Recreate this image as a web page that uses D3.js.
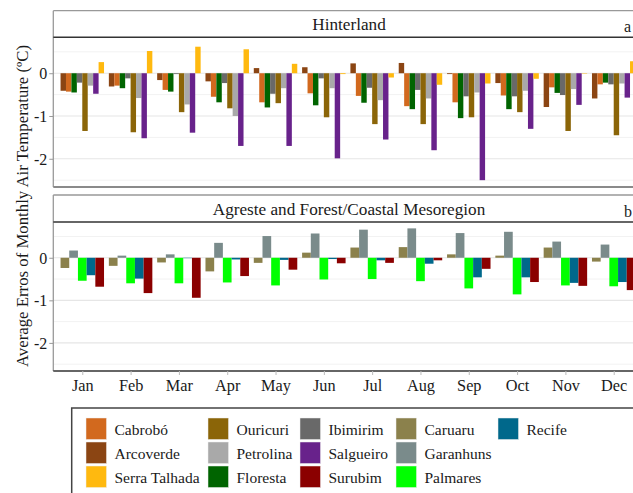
<!DOCTYPE html>
<html>
<head>
<meta charset="utf-8">
<script src="https://cdn.jsdelivr.net/npm/d3@7"></script>
<style>
  html, body { margin: 0; padding: 0; background: #fff; }
  svg { display: block; font-family: "Liberation Serif", "Times New Roman", serif; }
</style>
</head>
<body>
<svg id="chart" width="633" height="493"></svg>
<script>
// Months on the shared x axis
const months = ["Jan","Feb","Mar","Apr","May","Jun","Jul","Aug","Sep","Oct","Nov","Dec"];
const yTicks = [0, -1, -2];

// Hinterland stations (mean monthly error, °C)
const hinterlandStations = ["Arcoverde","Cabrobó","Floresta","Ibimirim","Ouricuri","Petrolina","Salgueiro","Serra Talhada"];
const arcoverde    = [-0.41,-0.31,-0.16,-0.19, 0.12, 0.14, 0.23, 0.24,-0.02,-0.23,-0.79,-0.59];
const cabrobo      = [-0.43,-0.29,-0.39,-0.55,-0.68,-0.47,-0.53,-0.77,-0.68,-0.52,-0.33,-0.26];
const floresta     = [-0.45,-0.35,-0.43,-0.68,-0.80,-0.75,-0.69,-0.84,-1.05,-0.84,-0.46,-0.22];
const ibimirim     = [-0.22,-0.12,-0.02,-0.23,-0.48,-0.12,-0.34,-0.39,-0.54,-0.54,-0.51,-0.26];
const ouricuri     = [-1.35,-1.38,-0.91,-0.82,-0.70,-1.03,-1.19,-1.19,-1.03,-0.91,-1.35,-1.45];
const petrolina    = [-0.29,-0.58,-0.73,-1.00,-0.35,-0.35,-0.63,-0.59,-0.45,-0.41,-0.37,-0.24];
const salgueiro    = [-0.48,-1.52,-1.39,-1.70,-1.70,-1.99,-1.55,-1.80,-2.50,-1.30,-0.74,-0.57];
const serraTalhada = [ 0.26, 0.52, 0.62, 0.56, 0.22,-0.02,-0.10,-0.27,-0.24,-0.13,-0.01, 0.28];

// Agreste and Forest/Coastal stations (mean monthly error, °C)
const agresteStations = ["Caruaru","Garanhuns","Palmares","Recife","Surubim"];
const caruaru   = [-0.24,-0.19,-0.11,-0.32,-0.12, 0.12, 0.24, 0.25, 0.08, 0.05, 0.24,-0.09];
const garanhuns = [ 0.17, 0.05, 0.08, 0.35, 0.51, 0.57, 0.66, 0.69, 0.58, 0.61, 0.38, 0.31];
const palmares  = [-0.54,-0.60,-0.60,-0.58,-0.65,-0.51,-0.50,-0.55,-0.72,-0.86,-0.65,-0.67];
const recife    = [-0.41,-0.49,-0.01,-0.04,-0.05,-0.03,-0.06,-0.14,-0.46,-0.46,-0.59,-0.57];
const surubim   = [-0.68,-0.83,-0.94,-0.43,-0.28,-0.13,-0.12,-0.06,-0.26,-0.57,-0.66,-0.76];

// Legend order (filled column by column, three rows)
const legendOrder = ["Cabrobó","Arcoverde","Serra Talhada","Ouricuri","Petrolina","Floresta",
                     "Ibimirim","Salgueiro","Surubim","Caruaru","Garanhuns","Palmares","Recife"];

const stationColor = d3.scaleOrdinal()
  .domain(["Cabrobó","Arcoverde","Serra Talhada","Ouricuri","Petrolina","Floresta",
           "Ibimirim","Salgueiro","Surubim","Caruaru","Garanhuns","Palmares","Recife"])
  .range(["#D2691E","#8B4513","#FFB90F","#8B6508","#A9A9A9","#006400",
          "#696969","#68228B","#8B0000","#8B814C","#7A8B8B","#00FF00","#00688B"]);

const hinterlandValues = [arcoverde, cabrobo, floresta, ibimirim, ouricuri, petrolina, salgueiro, serraTalhada];
const agresteValues = [caruaru, garanhuns, palmares, recife, surubim];

function toRows(stations, values) {
  const rows = [];
  stations.forEach((s, i) => months.forEach((m, j) => rows.push({station: s, month: m, value: values[i][j]})));
  return rows;
}

const svg = d3.select("#chart");
const left = 53.3, right = 642.7;

const x = d3.scalePoint().domain(months).range([left, right]).padding(0.6);
const step = x.step();

const panels = [
  {title: "Hinterland", tag: "a", tagX: 624, top: 10.7, stripBottom: 37.3, bottom: 187,
   stations: hinterlandStations, rows: toRows(hinterlandStations, hinterlandValues), last: false},
  {title: "Agreste and Forest/Coastal Mesoregion", tag: "b", tagX: 624, top: 195, stripBottom: 222, bottom: 371,
   stations: agresteStations, rows: toRows(agresteStations, agresteValues), last: true}
];

panels.forEach(p => {
  const g = svg.append("g");
  const y = d3.scaleLinear().domain([-2.66, 0.84]).range([p.bottom, p.stripBottom]);
  const inner = d3.scaleBand().domain(p.stations).range([-0.45 * step, 0.45 * step]);

  // gridlines (minor then major)
  const minor = [0.5, -0.5, -1.5, -2.5];
  g.selectAll(".minor").data(minor).join("line")
    .attr("x1", left).attr("x2", right)
    .attr("y1", d => y(d)).attr("y2", d => y(d))
    .attr("stroke", "#f2f2f2").attr("stroke-width", 1);
  g.selectAll(".major").data(yTicks).join("line")
    .attr("x1", left).attr("x2", right)
    .attr("y1", d => y(d)).attr("y2", d => y(d))
    .attr("stroke", "#e6e6e6").attr("stroke-width", 1.2);

  // bars
  g.selectAll("rect.bar").data(p.rows).join("rect")
    .attr("class", "bar")
    .attr("x", d => x(d.month) + inner(d.station))
    .attr("width", inner.bandwidth())
    .attr("y", d => y(Math.max(0, d.value)))
    .attr("height", d => Math.abs(y(d.value) - y(0)))
    .attr("fill", d => stationColor(d.station));

  // strip and panel frame
  g.append("line").attr("x1", left).attr("x2", right + 5).attr("y1", p.top).attr("y2", p.top)
    .attr("stroke", "#999").attr("stroke-width", 1.3);
  g.append("line").attr("x1", left).attr("x2", left).attr("y1", p.top).attr("y2", p.bottom)
    .attr("stroke", "#999").attr("stroke-width", 1.3);
  g.append("line").attr("x1", left).attr("x2", right + 5).attr("y1", p.stripBottom).attr("y2", p.stripBottom)
    .attr("stroke", "#333").attr("stroke-width", 1.4);
  g.append("line").attr("x1", left).attr("x2", right + 5).attr("y1", p.bottom).attr("y2", p.bottom)
    .attr("stroke", p.last ? "#333" : "#8a8a8a").attr("stroke-width", p.last ? 1.6 : 1.8);

  g.append("text")
    .attr("x", (left + right) / 2 + 1).attr("y", (p.top + p.stripBottom) / 2 + 6)
    .attr("text-anchor", "middle").attr("font-size", 17.2).attr("fill", "#1a1a1a")
    .text(p.title);
  g.append("text")
    .attr("x", p.tagX).attr("y", p.stripBottom - 5)
    .attr("font-size", 16).attr("fill", "#1a1a1a")
    .text(p.tag);

  // y axis
  const ya = g.append("g").attr("transform", `translate(${left},0)`)
    .call(d3.axisLeft(y).tickValues(yTicks).tickSize(4).tickFormat(d => String(d)));
  ya.select(".domain").remove();
  ya.selectAll(".tick line").attr("stroke", "#999");
  ya.selectAll(".tick text").attr("font-size", 16).attr("fill", "#1a1a1a")
    .attr("font-family", "Liberation Serif, serif").attr("x", -6).attr("dy", "0.33em");

  if (p.last) {
    const xa = g.append("g").attr("transform", `translate(0,${p.bottom})`)
      .call(d3.axisBottom(x).tickSize(4));
    xa.select(".domain").remove();
    xa.selectAll(".tick line").attr("stroke", "#bbb");
    xa.selectAll(".tick text").attr("font-size", 16.3).attr("fill", "#1a1a1a")
      .attr("font-family", "Liberation Serif, serif").attr("y", 8).attr("dy", "0.71em");
  }
});

// y axis title
svg.append("text")
  .attr("transform", "translate(28,206) rotate(-90)")
  .attr("text-anchor", "middle").attr("font-size", 16.8).attr("fill", "#1a1a1a")
  .text("Average Erros of Monthly Air Temperature (ºC)");

// legend
const lg = svg.append("g");
lg.append("rect").attr("x", 71.7).attr("y", 408).attr("width", 600).attr("height", 120)
  .attr("fill", "none").attr("stroke", "#444").attr("stroke-width", 1.5);
const colX = [86, 208, 300, 396, 498];
const rowY = [418, 442, 466];
legendOrder.forEach((s, i) => {
  const c = Math.floor(i / 3), r = i % 3;
  lg.append("rect").attr("x", colX[c]).attr("y", rowY[r]).attr("width", 20.5).attr("height", 21.5)
    .attr("fill", stationColor(s)).attr("stroke", "#eee").attr("stroke-width", 0.5);
  lg.append("text").attr("x", colX[c] + 28.5).attr("y", rowY[r] + 16.5)
    .attr("font-size", 15.5).attr("fill", "#1a1a1a").text(s);
});
</script>
</body>
</html>
